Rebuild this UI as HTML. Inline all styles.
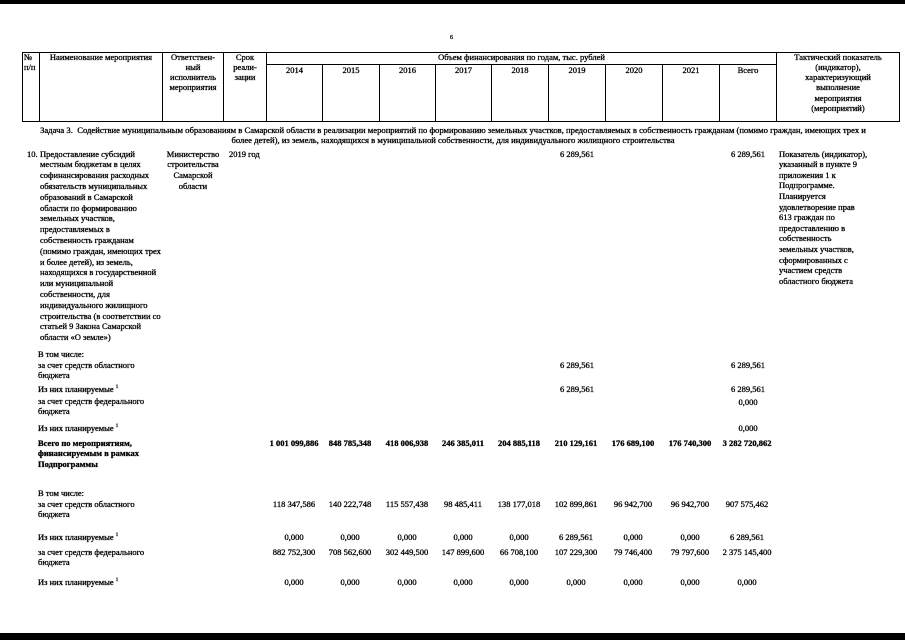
<!DOCTYPE html>
<html><head><meta charset="utf-8">
<style>
html,body{margin:0;padding:0;background:#fff;}
body{width:905px;height:640px;position:relative;overflow:hidden;}
.t{position:absolute;font-family:"Liberation Serif",serif;font-size:8.5px;line-height:10px;white-space:nowrap;color:#000;-webkit-text-stroke:0.3px #000;}
.c{text-align:center;}
.b{font-weight:bold;}
.h{position:absolute;background:#000;height:1px;}
.v{position:absolute;background:#000;width:1px;}
sup{font-size:5px;vertical-align:top;position:relative;top:-1px;}
</style></head><body>

<!-- scan edges -->
<div style="position:absolute;left:0;top:0;width:905px;height:4px;background:#000;"></div>
<div style="position:absolute;left:0;top:633px;width:905px;height:7px;background:#000;"></div>

<div class="t" style="left:450px;top:33px;font-size:6px;">6</div>

<!-- table borders -->
<div class="h" style="left:22px;top:52px;width:878px;"></div>
<div class="h" style="left:266px;top:64px;width:510px;"></div>
<div class="h" style="left:22px;top:121px;width:878px;"></div>

<div class="v" style="left:22px;top:52px;height:70px;"></div>
<div class="v" style="left:39px;top:52px;height:70px;"></div>
<div class="v" style="left:162px;top:52px;height:70px;"></div>
<div class="v" style="left:223px;top:52px;height:70px;"></div>
<div class="v" style="left:266px;top:52px;height:70px;"></div>
<div class="v" style="left:322px;top:64px;height:58px;"></div>
<div class="v" style="left:379px;top:64px;height:58px;"></div>
<div class="v" style="left:435px;top:64px;height:58px;"></div>
<div class="v" style="left:491px;top:64px;height:58px;"></div>
<div class="v" style="left:548px;top:64px;height:58px;"></div>
<div class="v" style="left:605px;top:64px;height:58px;"></div>
<div class="v" style="left:662px;top:64px;height:58px;"></div>
<div class="v" style="left:719px;top:64px;height:58px;"></div>
<div class="v" style="left:776px;top:52px;height:70px;"></div>
<div class="v" style="left:899px;top:52px;height:70px;"></div>

<!-- header texts -->
<div class="t" style="left:24px;top:51.5px;line-height:10.3px;">№<br>п/п</div>
<div class="t c" style="left:40px;width:122px;top:51.5px;">Наименование мероприятия</div>
<div class="t c" style="left:163px;width:60px;top:51.5px;line-height:10.3px;">Ответствен-<br>ный<br>исполнитель<br>мероприятия</div>
<div class="t c" style="left:224px;width:42px;top:51.5px;line-height:10.3px;">Срок<br>реали-<br>зации</div>
<div class="t c" style="left:267px;width:509px;top:51.5px;">Объем финансирования по годам, тыс. рублей</div>
<div class="t c" style="left:777px;width:122px;top:51.5px;line-height:10.3px;">Тактический показатель<br>(индикатор),<br>характеризующий<br>выполнение<br>мероприятия<br>(мероприятий)</div>

<div class="t c" style="left:267px;width:55px;top:65px;">2014</div>
<div class="t c" style="left:323px;width:56px;top:65px;">2015</div>
<div class="t c" style="left:380px;width:55px;top:65px;">2016</div>
<div class="t c" style="left:436px;width:55px;top:65px;">2017</div>
<div class="t c" style="left:492px;width:56px;top:65px;">2018</div>
<div class="t c" style="left:549px;width:56px;top:65px;">2019</div>
<div class="t c" style="left:606px;width:56px;top:65px;">2020</div>
<div class="t c" style="left:663px;width:56px;top:65px;">2021</div>
<div class="t c" style="left:720px;width:56px;top:65px;">Всего</div>

<!-- task -->
<div class="t c" style="left:0;width:906px;top:124.5px;font-size:8.65px;">Задача 3.&nbsp; Содействие муниципальным образованиям в Самарской области в реализации мероприятий по формированию земельных участков, предоставляемых в собственность гражданам (помимо граждан, имеющих трех и</div>
<div class="t c" style="left:0;width:906px;top:135px;font-size:8.65px;">более детей), из земель, находящихся в муниципальной собственности, для индивидуального жилищного строительства</div>

<!-- item 10 -->
<div class="t" style="left:27px;top:148.6px;">10.</div>
<div class="t" style="left:40px;top:148.6px;line-height:10.8px;">Предоставление субсидий<br>местным бюджетам в целях<br>софинансирования расходных<br>обязательств муниципальных<br>образований в Самарской<br>области по формированию<br>земельных участков,<br>предоставляемых в<br>собственность гражданам<br>(помимо граждан, имеющих трех<br>и более детей), из земель,<br>находящихся в государственной<br>или муниципальной<br>собственности, для<br>индивидуального жилищного<br>строительства (в соответствии со<br>статьей 9 Закона Самарской<br>области «О земле»)</div>
<div class="t c" style="left:163px;width:60px;top:148.6px;line-height:10.8px;">Министерство<br>строительства<br>Самарской<br>области</div>
<div class="t" style="left:229px;top:148.6px;">2019 год</div>
<div class="t c" style="left:549px;width:56px;top:148.6px;">6 289,561</div>
<div class="t c" style="left:720px;width:56px;top:148.6px;">6 289,561</div>
<div class="t" style="left:779px;top:148.6px;line-height:10.6px;">Показатель (индикатор),<br>указанный в пункте 9<br>приложения 1 к<br>Подпрограмме.<br>Планируется<br>удовлетворение прав<br>613 граждан по<br>предоставлению в<br>собственность<br>земельных участков,<br>сформированных с<br>участием средств<br>областного бюджета</div>

<!-- lower left texts -->
<div class="t" style="left:38px;top:348.5px;">В том числе:</div>
<div class="t" style="left:38px;top:359.5px;line-height:10.3px;">за счет средств областного<br>бюджета</div>
<div class="t" style="left:38px;top:383.5px;">Из них планируемые <sup>1</sup></div>
<div class="t" style="left:38px;top:395.5px;line-height:10.8px;">за счет средств федерального<br>бюджета</div>
<div class="t" style="left:38px;top:422.5px;">Из них планируемые <sup>1</sup></div>
<div class="t b" style="left:38px;top:437.5px;line-height:10.8px;">Всего по мероприятиям,<br>финансируемым в рамках<br>Подпрограммы</div>
<div class="t" style="left:38px;top:487.5px;">В том числе:</div>
<div class="t" style="left:38px;top:498.5px;line-height:10.3px;">за счет средств областного<br>бюджета</div>
<div class="t" style="left:38px;top:531.5px;">Из них планируемые <sup>1</sup></div>
<div class="t" style="left:38px;top:546.5px;line-height:10.3px;">за счет средств федерального<br>бюджета</div>
<div class="t" style="left:38px;top:576.5px;">Из них планируемые <sup>1</sup></div>

<!-- lower numbers: first block -->
<div class="t c" style="left:546px;width:62px;top:360px;">6 289,561</div>
<div class="t c" style="left:717px;width:62px;top:360px;">6 289,561</div>
<div class="t c" style="left:546px;width:62px;top:383.5px;">6 289,561</div>
<div class="t c" style="left:717px;width:62px;top:383.5px;">6 289,561</div>
<div class="t c" style="left:717px;width:62px;top:396.5px;">0,000</div>
<div class="t c" style="left:717px;width:62px;top:422.5px;">0,000</div>

<!-- totals row -->
<div class="t c b" style="left:264px;width:60px;top:437.5px;">1 001 099,886</div>
<div class="t c b" style="left:320px;width:60px;top:437.5px;">848 785,348</div>
<div class="t c b" style="left:377px;width:60px;top:437.5px;">418 006,938</div>
<div class="t c b" style="left:433px;width:60px;top:437.5px;">246 385,011</div>
<div class="t c b" style="left:489px;width:60px;top:437.5px;">204 885,118</div>
<div class="t c b" style="left:546px;width:60px;top:437.5px;">210 129,161</div>
<div class="t c b" style="left:603px;width:60px;top:437.5px;">176 689,100</div>
<div class="t c b" style="left:660px;width:60px;top:437.5px;">176 740,300</div>
<div class="t c b" style="left:715px;width:64px;top:437.5px;">3 282 720,862</div>

<!-- regional -->
<div class="t c" style="left:264px;width:60px;top:498.5px;">118 347,586</div>
<div class="t c" style="left:320px;width:60px;top:498.5px;">140 222,748</div>
<div class="t c" style="left:377px;width:60px;top:498.5px;">115 557,438</div>
<div class="t c" style="left:433px;width:60px;top:498.5px;">98 485,411</div>
<div class="t c" style="left:489px;width:60px;top:498.5px;">138 177,018</div>
<div class="t c" style="left:546px;width:60px;top:498.5px;">102 899,861</div>
<div class="t c" style="left:603px;width:60px;top:498.5px;">96 942,700</div>
<div class="t c" style="left:660px;width:60px;top:498.5px;">96 942,700</div>
<div class="t c" style="left:717px;width:60px;top:498.5px;">907 575,462</div>

<div class="t c" style="left:264px;width:60px;top:531.5px;">0,000</div>
<div class="t c" style="left:320px;width:60px;top:531.5px;">0,000</div>
<div class="t c" style="left:377px;width:60px;top:531.5px;">0,000</div>
<div class="t c" style="left:433px;width:60px;top:531.5px;">0,000</div>
<div class="t c" style="left:489px;width:60px;top:531.5px;">0,000</div>
<div class="t c" style="left:546px;width:60px;top:531.5px;">6 289,561</div>
<div class="t c" style="left:603px;width:60px;top:531.5px;">0,000</div>
<div class="t c" style="left:660px;width:60px;top:531.5px;">0,000</div>
<div class="t c" style="left:717px;width:60px;top:531.5px;">6 289,561</div>

<!-- federal -->
<div class="t c" style="left:264px;width:60px;top:546.5px;">882 752,300</div>
<div class="t c" style="left:320px;width:60px;top:546.5px;">708 562,600</div>
<div class="t c" style="left:377px;width:60px;top:546.5px;">302 449,500</div>
<div class="t c" style="left:433px;width:60px;top:546.5px;">147 899,600</div>
<div class="t c" style="left:489px;width:60px;top:546.5px;">66 708,100</div>
<div class="t c" style="left:546px;width:60px;top:546.5px;">107 229,300</div>
<div class="t c" style="left:603px;width:60px;top:546.5px;">79 746,400</div>
<div class="t c" style="left:660px;width:60px;top:546.5px;">79 797,600</div>
<div class="t c" style="left:715px;width:64px;top:546.5px;">2 375 145,400</div>

<div class="t c" style="left:264px;width:60px;top:576.5px;">0,000</div>
<div class="t c" style="left:320px;width:60px;top:576.5px;">0,000</div>
<div class="t c" style="left:377px;width:60px;top:576.5px;">0,000</div>
<div class="t c" style="left:433px;width:60px;top:576.5px;">0,000</div>
<div class="t c" style="left:489px;width:60px;top:576.5px;">0,000</div>
<div class="t c" style="left:546px;width:60px;top:576.5px;">0,000</div>
<div class="t c" style="left:603px;width:60px;top:576.5px;">0,000</div>
<div class="t c" style="left:660px;width:60px;top:576.5px;">0,000</div>
<div class="t c" style="left:717px;width:60px;top:576.5px;">0,000</div>

</body></html>
